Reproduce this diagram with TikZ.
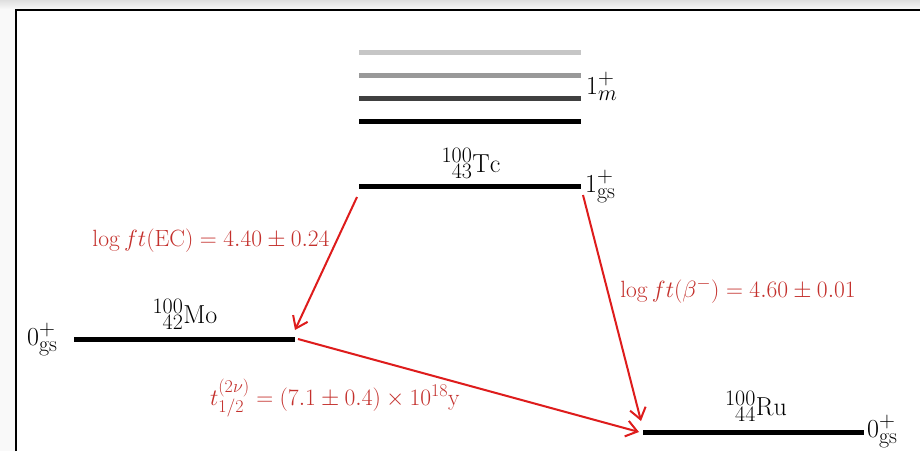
\RequirePackage{fix-cm}
\documentclass[tikz,border=0pt]{standalone}
\usetikzlibrary{arrows.meta}
\DeclareMathSizes{26}{26}{22}{16}
\DeclareMathSizes{23.5}{23.5}{18}{14}
\definecolor{arrred}{RGB}{222,28,28}
\definecolor{txtred}{RGB}{196,48,44}
\begin{document}
\begin{tikzpicture}[x=1pt,y=-1pt,
  lvl/.style={line width=5pt},
  decay/.style={draw=arrred,line width=2pt,-{Straight Barb[length=11pt,width=16pt,line width=2pt]}},
  lab/.style={font=\fontsize{26}{30}\selectfont, inner sep=0pt},
  rlab/.style={font=\fontsize{23.5}{28}\selectfont, inner sep=0pt, text=txtred}]
\useasboundingbox (0,0) rectangle (920,451);
\fill[white] (0,0) rectangle (920,451);
\shade[top color=gray!25, bottom color=gray!5] (0,0) rectangle (920,9);
\fill[gray!5] (0,9) rectangle (15,451);
\draw[line width=2pt] (16,451) -- (16,10) -- (920,10);

% Tc levels
\coordinate (t4L) at (359,52);  \coordinate (t4R) at (581,52);
\coordinate (t3L) at (359,75);  \coordinate (t3R) at (581,75);
\coordinate (t2L) at (359,98);  \coordinate (t2R) at (581,98);
\coordinate (t1L) at (359,121); \coordinate (t1R) at (581,121);
\coordinate (tgL) at (359,186); \coordinate (tgR) at (581,186);
\draw[lvl, color=gray!45] (t4L) -- (t4R);
\draw[lvl, color=gray!80] (t3L) -- (t3R);
\draw[lvl, color=black!75] (t2L) -- (t2R);
\draw[lvl, color=black] (t1L) -- (t1R);
\draw[lvl, color=black] (tgL) -- (tgR);

% Mo and Ru levels
\coordinate (moL) at (74,339);  \coordinate (moR) at (295,339);
\coordinate (ruL) at (643,432); \coordinate (ruR) at (864,432);
\draw[lvl] (moL) -- (moR);
\draw[lvl] (ruL) -- (ruR);

% labels
\node[lab, anchor=base west] (lm) at (586,94) {$1^+_m$};
\node[lab, anchor=base west] (lgs) at (585,192) {$1^+_{\mathrm{gs}}$};
\node[lab, anchor=base] (tc) at (471,172) {$^{100}_{\phantom{1}43}\mathrm{Tc}$};
\node[lab, anchor=base west] (mogs) at (27,345) {$0^+_{\mathrm{gs}}$};
\node[lab, anchor=base] (mo) at (185,323) {$^{100}_{\phantom{1}42}\mathrm{Mo}$};
\node[lab, anchor=base west] (rugs) at (867,437) {$0^+_{\mathrm{gs}}$};
\node[lab, anchor=base] (ru) at (756,415) {$^{100}_{\phantom{1}44}\mathrm{Ru}$};

% decay arrows
\coordinate (a1s) at (357,197); \coordinate (a1e) at (295,330);
\coordinate (a2s) at (583,195); \coordinate (a2e) at (641,421);
\coordinate (a3s) at (298,339); \coordinate (a3e) at (639,432);
\draw[decay] (a1s) -- (a1e);
\draw[decay] (a2s) -- (a2e);
\draw[decay] (a3s) -- (a3e);

\node[rlab, anchor=base] (ec) at (211,246) {$\log ft(\mathrm{EC}) = 4.40 \pm 0.24$};
\node[rlab, anchor=base] (bm) at (738,297) {$\log ft(\beta^-) = 4.60 \pm 0.01$};
\node[rlab, anchor=base] (hl) at (335,405) {$t_{1/2}^{(2\nu)} = (7.1 \pm 0.4)\times 10^{18}\mathrm{y}$};
\end{tikzpicture}
\end{document}
